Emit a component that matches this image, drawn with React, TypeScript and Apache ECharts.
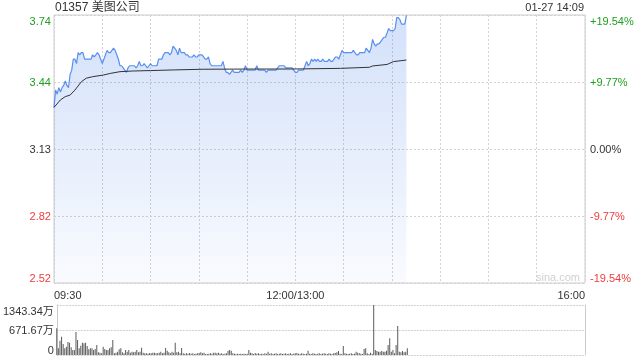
import React, { useEffect, useRef } from "react";
import * as echarts from "echarts";

const stockTitle = "01357 美图公司";
const stampText = "01-27 14:09";
const prevClose = 3.13;
const pctMin = -19.54;
const pctMax = 19.54;
const pctStep = 9.77;
const priceTickLabels = ["2.52", "2.82", "3.13", "3.44", "3.74"];
const pctTickLabels = ["-19.54%", "-9.77%", "0.00%", "+9.77%", "+19.54%"];
const volTickLabels = ["0", "671.67万", "1343.34万"];
const volMax = 1343.34;
const volStep = 671.67;
const sessionMinutes = 330;
const timeLabelMinutes = [0, 150, 330];
const timeLabelTexts = ["09:30", "12:00/13:00", "16:00"];

// one price per minute from 09:30
const prices = [
  3.32, 3.4, 3.38, 3.41, 3.39, 3.41, 3.42, 3.44, 3.42, 3.41, 3.47, 3.49, 3.54, 3.54, 3.52, 3.57, 3.56, 3.57, 3.57, 3.54, 3.54, 3.54,
  3.54, 3.54, 3.56, 3.55, 3.56, 3.57, 3.56, 3.54, 3.52, 3.54, 3.56, 3.58, 3.57, 3.57, 3.58, 3.59, 3.58, 3.56, 3.54, 3.51, 3.51, 3.5,
  3.49, 3.48, 3.5, 3.51, 3.51, 3.51, 3.51, 3.5, 3.51, 3.53, 3.51, 3.51, 3.52, 3.51, 3.5, 3.51, 3.52, 3.51, 3.51, 3.51, 3.51, 3.54,
  3.54, 3.54, 3.56, 3.57, 3.57, 3.57, 3.56, 3.57, 3.6, 3.59,
  3.58, 3.56, 3.59, 3.57, 3.57, 3.57, 3.56, 3.56, 3.55, 3.55, 3.55, 3.56, 3.55, 3.55, 3.56, 3.56, 3.56, 3.55, 3.54, 3.54, 3.55,
  3.52, 3.51, 3.51, 3.51, 3.51, 3.51, 3.51, 3.51, 3.53, 3.5, 3.48, 3.48, 3.47, 3.48, 3.49, 3.48, 3.48, 3.48, 3.48, 3.49, 3.48,
  3.49, 3.51, 3.49, 3.49, 3.49, 3.49, 3.49, 3.49, 3.51, 3.49, 3.49, 3.49, 3.49, 3.49, 3.48, 3.49, 3.49, 3.49, 3.49, 3.49, 3.49,
  3.5, 3.51, 3.51, 3.51, 3.51, 3.5, 3.5, 3.5, 3.5, 3.5, 3.49, 3.48,
  3.48, 3.49, 3.49, 3.49, 3.49, 3.51, 3.53, 3.51, 3.52, 3.54, 3.53, 3.54, 3.53, 3.54, 3.53, 3.53, 3.54, 3.53, 3.53, 3.53,
  3.54, 3.53, 3.53, 3.54, 3.55, 3.55, 3.54, 3.56, 3.58, 3.57, 3.57, 3.57, 3.57,
  3.57, 3.57, 3.58, 3.57, 3.56, 3.56, 3.57, 3.57, 3.57, 3.57, 3.59, 3.58, 3.57, 3.59, 3.63, 3.61, 3.6, 3.61, 3.61, 3.62, 3.63,
  3.64, 3.64, 3.66, 3.68, 3.67, 3.67, 3.67, 3.68, 3.73, 3.73, 3.72, 3.7, 3.7, 3.7, 3.74,
];

// average price line, read at these minutes
const avgMinutes = [0, 4, 7, 10, 13, 17, 20, 24, 31, 35, 41, 49, 60, 75, 93, 124, 147, 178, 196, 198, 207, 211, 219];
const avgPrices = [
  3.32, 3.354, 3.369, 3.376, 3.399, 3.437, 3.453, 3.46, 3.468, 3.475, 3.483, 3.486, 3.488, 3.491, 3.494, 3.495, 3.495, 3.498,
  3.503, 3.509, 3.516, 3.529, 3.536,
];

// volume per minute, in 万
const volumes = [
  716, 179, 385, 493, 296, 179, 224, 349, 331, 206, 134, 134, 618, 403, 179, 251, 331, 313, 331, 242, 152, 179, 179, 134, 161, 269,
  72, 63, 45, 224, 161, 134, 134, 179, 206, 403, 45, 63, 90, 152, 179, 72, 45, 134, 90, 134, 63, 90, 72, 90, 134, 72, 90, 197, 63,
  45, 45, 36, 54, 45, 63, 63, 45, 45, 63, 90, 45, 63, 188, 116, 72, 45, 90, 63, 331, 72, 90, 45, 188, 45, 36, 45, 36, 54, 36, 45,
  27, 36, 45, 54, 72, 45, 63, 27, 27, 36, 45, 36, 63, 63, 45, 63, 36, 45, 27, 36, 45, 116, 134, 116, 45, 36, 27, 36, 27, 36, 27,
  36, 27, 36, 134, 63, 45, 27, 54, 36, 45, 27, 36, 27, 45, 36, 90, 36, 45, 27, 36, 45, 27, 36, 45, 27, 36, 45, 27, 36, 45, 27, 36,
  45, 54, 36, 27, 45, 36, 27, 36, 116, 36, 27, 45, 36, 27, 36, 45, 27, 36, 45, 36, 27, 45, 36, 27, 45, 54, 72, 107, 36, 27, 242,
  45, 36, 27, 36, 45, 27, 36, 90, 63, 45, 36, 27, 161, 179, 45, 27, 63, 36, 1343.34, 134, 107, 90, 90, 107, 90, 90, 116, 269, 448,
  90, 134, 45, 269, 779, 90, 72, 107, 72, 90, 179,
];

const GREEN = "#1e9e1e";
const RED = "#f03c3c";
const TEXT = "#333";
const FONT = "'Liberation Sans', Arial, 'Noto Sans CJK SC', sans-serif";

const toPct = (p: number) => ((p - prevClose) / prevClose) * 100;
const pctIndex = (v: number) => Math.round((v - pctMin) / pctStep);
const pctColor = (v: any) => {
  const n = parseFloat(v);
  if (n > 0.001) return GREEN;
  if (n < -0.001) return RED;
  return TEXT;
};

export default function App() {
  const ref = useRef<HTMLDivElement>(null);
  useEffect(() => {
    if (!ref.current) return;
    const chart = echarts.init(ref.current, null, { renderer: "svg" });
    const priceData = prices.map((p, i) => [i, toPct(p)]);
    const avgData = avgMinutes.map((m, i) => [m, toPct(avgPrices[i])]);
    const volData = volumes.map((v, i) => [i, v]);
    const grid0 = { left: 54, right: 55, top: 15, height: 268 };
    const grid1 = { left: 54, right: 55, top: 305, height: 50 };
    chart.setOption({
      animation: false,
      textStyle: { fontFamily: FONT },
      title: {
        text: stockTitle,
        left: 55,
        top: 1,
        padding: 0,
        textStyle: { fontSize: 12, color: TEXT, fontWeight: "normal", fontFamily: FONT },
      },
      graphic: [
        {
          type: "text",
          right: 56,
          top: 1,
          style: { text: stampText, fill: TEXT, fontSize: 11, fontFamily: FONT },
        },
        {
          type: "text",
          x: 580,
          y: 277,
          style: {
            text: "sina.com",
            fill: "#d0d0d0",
            fontSize: 11,
            fontFamily: FONT,
            align: "right",
            verticalAlign: "middle",
          },
        },
      ],
      grid: [
        { ...grid0, show: true, borderColor: "#ccc", borderWidth: 1, backgroundColor: "transparent" },
        { ...grid1 },
      ],
      xAxis: [
        {
          type: "value",
          gridIndex: 0,
          min: 0,
          max: sessionMinutes,
          interval: 30,
          axisLine: { show: false },
          axisTick: { show: false },
          splitLine: { show: true, lineStyle: { color: "#d2d2d2", type: [2, 2] } },
          axisLabel: {
            show: true,
            fontSize: 11,
            color: TEXT,
            margin: 6,
            showMinLabel: true,
            showMaxLabel: true,
            alignMinLabel: "left",
            alignMaxLabel: "right",
            formatter: (v: number) => {
              const k = timeLabelMinutes.indexOf(Math.round(v));
              return k >= 0 ? timeLabelTexts[k] : "";
            },
          },
        },
        {
          type: "value",
          gridIndex: 1,
          min: 0,
          max: sessionMinutes,
          interval: 30,
          axisLine: { show: false },
          axisTick: { show: false },
          splitLine: { show: false },
          axisLabel: { show: false },
        },
      ],
      yAxis: [
        {
          type: "value",
          gridIndex: 0,
          min: pctMin,
          max: pctMax,
          interval: pctStep,
          axisLine: { show: false },
          axisTick: { show: false },
          splitLine: { show: true, lineStyle: { color: "#d2d2d2", type: [2, 2] } },
          axisLabel: {
            fontSize: 11,
            margin: 3,
            showMinLabel: true,
            showMaxLabel: true,
            verticalAlignMinLabel: "bottom",
            verticalAlignMaxLabel: "top",
            color: pctColor,
            formatter: (v: number) => priceTickLabels[pctIndex(v)] ?? "",
          },
        },
        {
          type: "value",
          gridIndex: 0,
          position: "right",
          min: pctMin,
          max: pctMax,
          interval: pctStep,
          axisLine: { show: false },
          axisTick: { show: false },
          splitLine: { show: false },
          axisLabel: {
            fontSize: 11,
            margin: 5,
            showMinLabel: true,
            showMaxLabel: true,
            verticalAlignMinLabel: "bottom",
            verticalAlignMaxLabel: "top",
            color: pctColor,
            formatter: (v: number) => pctTickLabels[pctIndex(v)] ?? "",
          },
        },
        {
          type: "value",
          gridIndex: 1,
          min: 0,
          max: volMax,
          interval: volStep,
          axisLine: { show: true, lineStyle: { color: "#ccc" } },
          axisTick: { show: false },
          splitLine: { show: true, lineStyle: { color: "#cfcfcf", type: [2, 1] } },
          axisLabel: {
            fontSize: 11,
            margin: 3,
            color: TEXT,
            showMinLabel: true,
            showMaxLabel: true,
            verticalAlignMinLabel: "bottom",
            verticalAlignMaxLabel: "top",
            formatter: (v: number) => volTickLabels[Math.round(v / volStep)] ?? "",
          },
        },
        {
          type: "value",
          gridIndex: 1,
          position: "right",
          min: 0,
          max: volMax,
          interval: volStep,
          axisLine: { show: true, lineStyle: { color: "#ccc" } },
          axisTick: { show: false },
          splitLine: { show: false },
          axisLabel: { show: false },
        },
      ],
      series: [
        {
          type: "line",
          xAxisIndex: 0,
          yAxisIndex: 0,
          data: priceData,
          showSymbol: false,
          symbol: "none",
          lineStyle: { color: "#5a8ff0", width: 1.2 },
          areaStyle: {
            origin: "start",
            color: new echarts.graphic.LinearGradient(0, 0, 0, 1, [
              { offset: 0, color: "rgba(80,135,235,0.36)" },
              { offset: 1, color: "rgba(80,135,235,0.05)" },
            ]),
          },
          z: 3,
        },
        {
          type: "line",
          xAxisIndex: 0,
          yAxisIndex: 0,
          data: avgData,
          showSymbol: false,
          symbol: "none",
          lineStyle: { color: "#333", width: 1 },
          z: 4,
        },
        {
          type: "bar",
          xAxisIndex: 1,
          yAxisIndex: 2,
          data: volData,
          barWidth: 1,
          itemStyle: { color: "#5a5a5a" },
        },
      ],
    });
    return () => chart.dispose();
  }, []);
  return <div ref={ref} style={{ position: "fixed", left: 0, top: 0, width: 640, height: 360 }} />;
}
